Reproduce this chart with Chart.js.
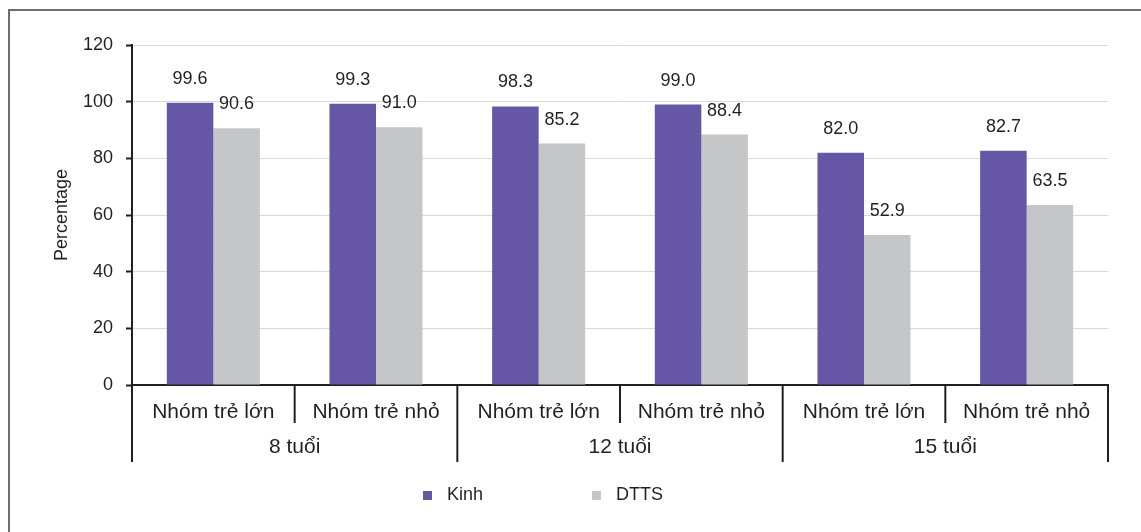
<!DOCTYPE html>
<html>
<head>
<meta charset="utf-8">
<title>Kinh / DTTS</title>
<script src="https://cdn.jsdelivr.net/npm/chart.js@4/dist/chart.umd.min.js"></script>
<style>
  html, body { margin: 0; padding: 0; background: #fff; }
  #wrap { width: 1141px; height: 532px; }
</style>
</head>
<body>
<div id="wrap"><canvas id="chart" width="1141" height="532"></canvas></div>
<script>
// age groups (outer axis row) and the two cohorts inside each one
const groups = ['8 tuổi', '12 tuổi', '15 tuổi'];
const cohorts = ['Nhóm trẻ lớn', 'Nhóm trẻ nhỏ'];

// percentages, one per cohort in group order
const kinh = [99.6, 99.3, 98.3, 99.0, 82.0, 82.7];
const dtts = [90.6, 91.0, 85.2, 88.4, 52.9, 63.5];

const seriesNames = ['Kinh', 'DTTS'];
const seriesColors = ['#6557a6', '#c5c6c8'];

const yMin = 0, yMax = 120, yStep = 20;

const ink = '#231f20';
const fontFamily = '"Liberation Sans", Arial, sans-serif';

const labels = groups.flatMap(() => cohorts);

// grey frame round the figure
const framePlugin = {
  id: 'frame',
  beforeDraw(chart) {
    const ctx = chart.ctx;
    ctx.save();
    ctx.fillStyle = '#fff';
    ctx.fillRect(0, 0, chart.width, chart.height);
    ctx.fillStyle = '#6e6e6e';
    ctx.fillRect(8, 9, chart.width, 2);
    ctx.fillRect(8, 9, 2, chart.height);
    ctx.restore();
  }
};

// value printed above every bar
const barValues = {
  id: 'barValues',
  afterDatasetsDraw(chart) {
    const ctx = chart.ctx;
    ctx.save();
    ctx.fillStyle = ink;
    ctx.font = '18px ' + fontFamily;
    ctx.textAlign = 'center';
    ctx.textBaseline = 'alphabetic';
    chart.data.datasets.forEach((ds, i) => {
      chart.getDatasetMeta(i).data.forEach((bar, j) => {
        ctx.fillText(ds.data[j].toFixed(1), bar.x, bar.y - 19);
      });
    });
    ctx.restore();
  }
};

// second row of the category axis: separators and age group names
const groupAxis = {
  id: 'groupAxis',
  afterDraw(chart) {
    const x = chart.scales.x;
    const area = chart.chartArea;
    const ctx = chart.ctx;
    const n = labels.length;
    const edges = [area.left];
    for (let i = 0; i < n - 1; i++) {
      edges.push((x.getPixelForValue(i) + x.getPixelForValue(i + 1)) / 2);
    }
    edges.push(area.right);

    ctx.save();
    ctx.strokeStyle = ink;
    ctx.lineWidth = 2;
    edges.forEach((ex, i) => {
      const full = i % cohorts.length === 0;
      ctx.beginPath();
      ctx.moveTo(ex, area.bottom);
      ctx.lineTo(ex, area.bottom + (full ? 77 : 38));
      ctx.stroke();
    });

    ctx.fillStyle = ink;
    ctx.font = '21px ' + fontFamily;
    ctx.textAlign = 'center';
    ctx.textBaseline = 'alphabetic';
    groups.forEach((g, gi) => {
      const l = edges[gi * cohorts.length];
      const r = edges[(gi + 1) * cohorts.length];
      ctx.fillText(g, (l + r) / 2, area.bottom + 68);
    });
    ctx.restore();
  }
};

// legend row under the axis
const legendRow = {
  id: 'legendRow',
  afterDraw(chart) {
    const ctx = chart.ctx;
    const spots = [423, 592];
    ctx.save();
    ctx.font = '18px ' + fontFamily;
    ctx.textBaseline = 'alphabetic';
    ctx.textAlign = 'left';
    chart.data.datasets.forEach((ds, i) => {
      ctx.fillStyle = ds.backgroundColor;
      ctx.fillRect(spots[i], 491, 9, 9);
      ctx.fillStyle = ink;
      ctx.fillText(ds.label, spots[i] + 24, 500);
    });
    ctx.restore();
  }
};

new Chart(document.getElementById('chart'), {
  type: 'bar',
  data: {
    labels: labels,
    datasets: [
      { label: seriesNames[0], data: kinh, backgroundColor: seriesColors[0] },
      { label: seriesNames[1], data: dtts, backgroundColor: seriesColors[1] }
    ]
  },
  options: {
    responsive: false,
    animation: false,
    devicePixelRatio: 1,
    categoryPercentage: 0.572,
    barPercentage: 1,
    layout: { padding: { top: 45, right: 33, bottom: 0, left: 0 } },
    plugins: {
      legend: { display: false },
      tooltip: { enabled: false }
    },
    scales: {
      x: {
        grid: { display: false },
        border: { color: ink, width: 2 },
        ticks: {
          color: ink,
          font: { family: fontFamily, size: 21 },
          padding: 7,
          maxRotation: 0,
          autoSkip: false
        },
        afterFit(scale) { scale.height = 147; }
      },
      y: {
        min: yMin,
        max: yMax,
        ticks: {
          stepSize: yStep,
          color: ink,
          font: { family: fontFamily, size: 18 },
          padding: 13
        },
        grid: { color: '#d9d9d9', tickColor: ink, tickLength: 6, tickWidth: 2 },
        border: { color: ink, width: 2 },
        title: {
          display: true,
          text: 'Percentage',
          color: ink,
          font: { family: fontFamily, size: 18 },
          padding: { top: 51, bottom: 0 }
        },
        afterFit(scale) { scale.width = 132; }
      }
    }
  },
  plugins: [framePlugin, barValues, groupAxis, legendRow]
});
</script>
</body>
</html>
